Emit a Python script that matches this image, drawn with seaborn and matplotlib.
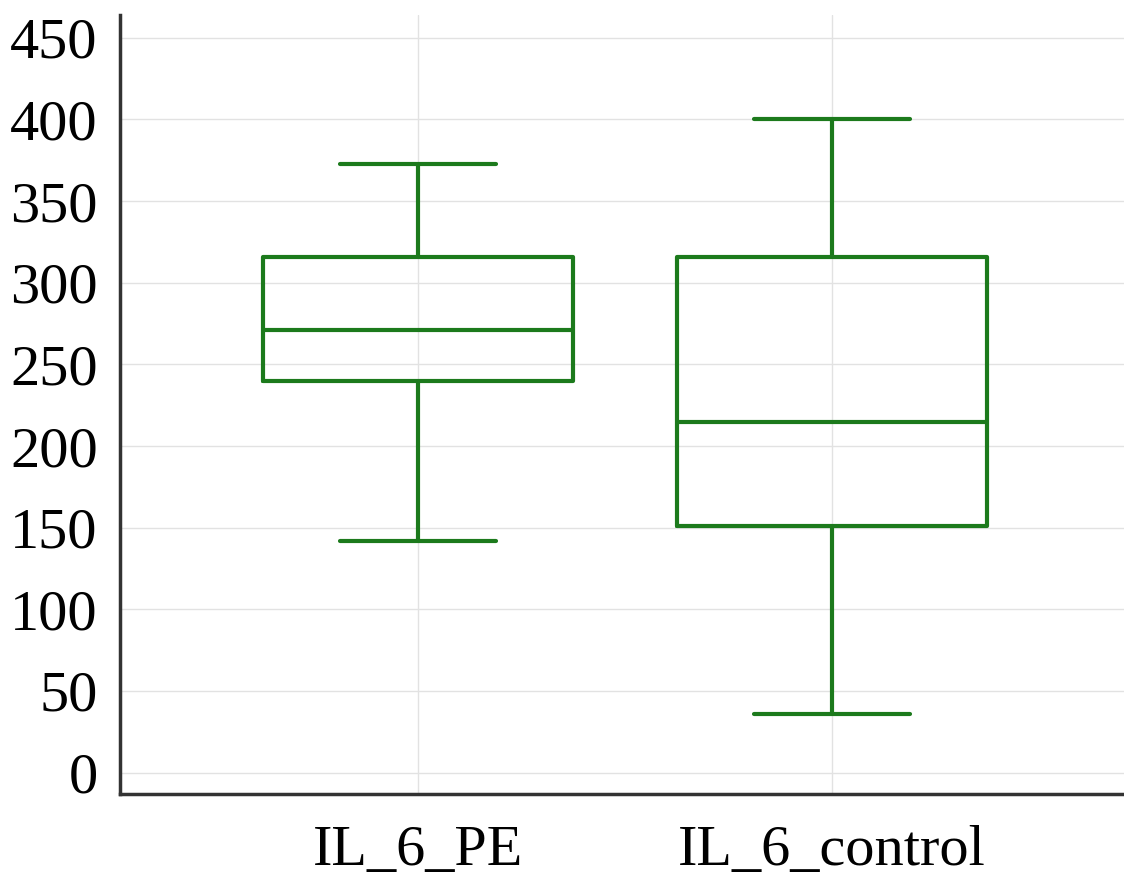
import numpy as np
import pandas as pd
import seaborn as sns
import matplotlib.pyplot as plt

groups = ["IL_6_PE", "IL_6_control"]
# five-number summaries: min, Q1, median, Q3, max
pe_values = [142, 240, 271, 316, 373]
control_values = [36, 151, 215, 316, 400]
y_ticks = [0, 50, 100, 150, 200, 250, 300, 350, 400, 450]

df = pd.DataFrame({
    "group": [groups[0]] * len(pe_values) + [groups[1]] * len(control_values),
    "value": pe_values + control_values,
})

sns.set_style("white")
plt.rcParams['font.family'] = ['Liberation Serif', 'DejaVu Serif']

green = "#1c7a1c"
fig = plt.figure(figsize=(11.24, 8.75), dpi=100)
ax = fig.add_axes([120 / 1124, 1 - 794 / 875, 1 - 120 / 1124, (794 - 15) / 875])

sns.boxplot(data=df, x="group", y="value", ax=ax, whis=(0, 100), width=0.75,
            fill=False, color=green, linewidth=3, showfliers=False,
            linecolor=green)

ax.set_xlim(-0.72, 1.705)
ax.set_ylim(-13.1, 464)
ax.set_yticks(y_ticks)
ax.set_xlabel("")
ax.set_ylabel("")
ax.grid(True, color="#e2e2e2", linewidth=1)
ax.set_axisbelow(True)

for side in ["top", "right"]:
    ax.spines[side].set_visible(False)
for side in ["left", "bottom"]:
    ax.spines[side].set_color("#333333")
    ax.spines[side].set_linewidth(2.5)

ax.tick_params(axis="both", direction="in", length=14, width=2.2,
               color="#333333", labelsize=42, labelcolor="black")
ax.tick_params(axis="y", pad=16)
ax.tick_params(axis="x", pad=22)

fig.savefig("out.png", dpi=100, facecolor="white")
